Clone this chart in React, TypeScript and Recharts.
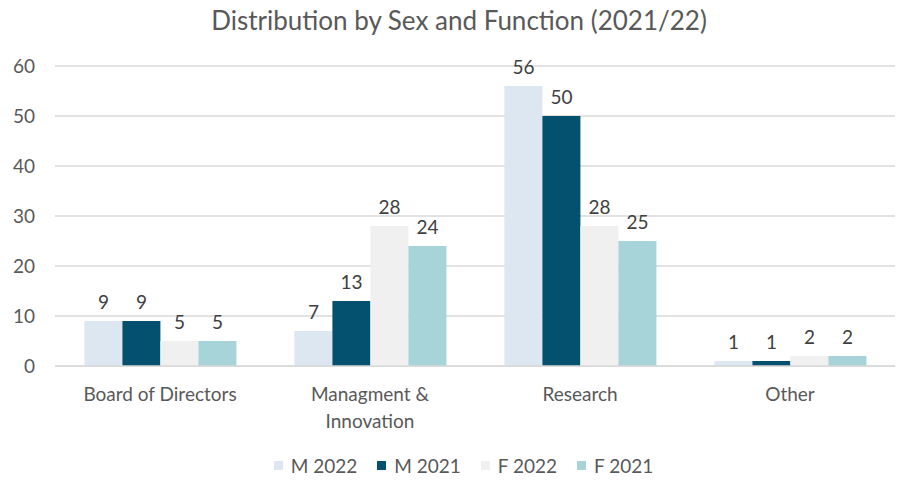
import * as React from "react";
import { BarChart, Bar, XAxis, YAxis, CartesianGrid, LabelList, Legend } from "recharts";

const categories = ["Board of Directors", "Managment & Innovation", "Research", "Other"];
const m2022 = [9, 7, 56, 1];
const m2021 = [9, 13, 50, 1];
const f2022 = [5, 28, 28, 2];
const f2021 = [5, 24, 25, 2];
const yTicks = [0, 10, 20, 30, 40, 50, 60];

const series = [
  { key: "m2022", name: "M 2022", color: "#dde7f2" },
  { key: "m2021", name: "M 2021", color: "#03506f" },
  { key: "f2022", name: "F 2022", color: "#f0f0f0" },
  { key: "f2021", name: "F 2021", color: "#a6d4d8" },
];

const data = categories.map((c, i) => ({
  name: c,
  m2022: m2022[i],
  m2021: m2021[i],
  f2022: f2022[i],
  f2021: f2021[i],
}));

const FONT = "Lato, 'Open Sans', sans-serif";

// split long labels after the ampersand
function CategoryTick(props: any) {
  const { x, y, payload } = props;
  const text: string = payload.value;
  const lines = text.includes(" & ") ? [text.split(" & ")[0] + " &", text.split(" & ")[1]] : [text];
  return (
    <text x={x} y={y} textAnchor="middle" fill="#595959" fontSize={19} fontFamily={FONT}>
      {lines.map((l, i) => (
        <tspan key={i} x={x} dy={27}>
          {l}
        </tspan>
      ))}
    </text>
  );
}

function LegendContent() {
  return (
    <div
      style={{
        display: "flex",
        justifyContent: "center",
        gap: 20,
        paddingLeft: 32,
        fontFamily: FONT,
        fontSize: 19,
        color: "#595959",
      }}
    >
      {series.map((s) => (
        <div key={s.key} style={{ display: "flex", alignItems: "center" }}>
          <span style={{ display: "inline-block", width: 9, height: 9, background: s.color, marginRight: 8 }} />
          {s.name}
        </div>
      ))}
    </div>
  );
}

export default function App() {
  return (
    <div style={{ position: "absolute", left: 0, top: 0, width: 902, height: 480, background: "#fff" }}>
      <div
        style={{
          position: "absolute",
          top: 4,
          left: 16,
          width: 886,
          textAlign: "center",
          fontFamily: FONT,
          fontSize: 26,
          color: "#595959",
        }}
      >
        Distribution by Sex and Function (2021/22)
      </div>
      <BarChart
        width={902}
        height={480}
        data={data}
        margin={{ top: 66, right: 7, bottom: 0, left: 0 }}
        barCategoryGap="14%"
        barGap={0}
      >
        <CartesianGrid vertical={false} stroke="#d9d9d9" strokeWidth={1.3} />
        <XAxis
          dataKey="name"
          axisLine={{ stroke: "#d9d9d9", strokeWidth: 1.3 }}
          tickLine={false}
          tick={<CategoryTick />}
          height={88}
          interval={0}
        />
        <YAxis
          domain={[0, 60]}
          ticks={yTicks}
          width={55}
          axisLine={false}
          tickLine={false}
          tickSize={0}
          tickMargin={20}
          tick={{ fill: "#595959", fontSize: 19, fontFamily: FONT }}
        />
        <Legend verticalAlign="bottom" height={26} content={<LegendContent />} />
        {series.map((s) => (
          <Bar key={s.key} dataKey={s.key} name={s.name} fill={s.color} isAnimationActive={false}>
            <LabelList dataKey={s.key} position="top" offset={12} fill="#404040" fontSize={19} fontFamily={FONT} />
          </Bar>
        ))}
      </BarChart>
    </div>
  );
}
